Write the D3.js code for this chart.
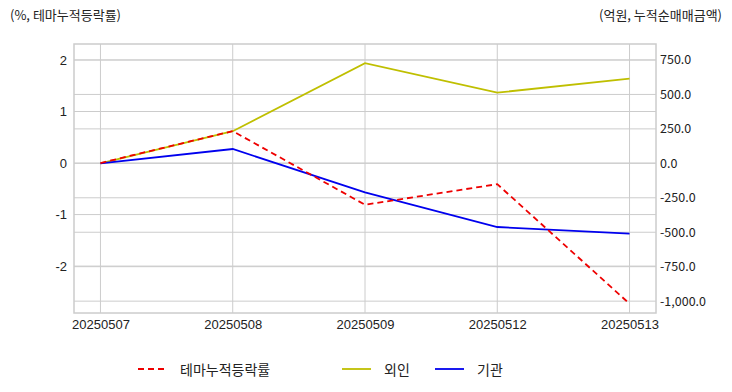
<!DOCTYPE html>
<html>
<head>
<meta charset="utf-8">
<script src="https://cdn.jsdelivr.net/npm/d3@7"></script>
<style>
  body { margin: 0; background: #fff; }
  svg text { font-family: "Noto Sans CJK KR", "Liberation Sans", sans-serif; fill: #222; }
  .tick text.num { font-family: "Liberation Sans", Arial, sans-serif; }
</style>
</head>
<body>
<div id="chart"></div>
<script>
// ---- data ----
const dates = ["20250507", "20250508", "20250509", "20250512", "20250513"];
const themeReturn = [0, 0.62, -0.81, -0.41, -2.73];   // %, left axis
const foreign = [0, 233, 727, 513, 615];                // 억원, right axis
const institution = [0, 104, -211, -462, -510];         // 억원, right axis
const leftTicks = [-2, -1, 0, 1, 2];
const rightTicks = [-1000, -750, -500, -250, 0, 250, 500, 750];

const width = 732, height = 392;
const plot = { left: 74, right: 656, top: 44, bottom: 313 };

const svg = d3.select("#chart").append("svg")
  .attr("width", width)
  .attr("height", height);

const x = d3.scalePoint()
  .domain(dates)
  .range([plot.left, plot.right])
  .padding(0.2);

const yLeft = d3.scaleLinear()
  .domain([-2.91, 2.31])
  .range([plot.bottom, plot.top]);

const yRight = d3.scaleLinear()
  .domain([-1086, 866])
  .range([plot.bottom, plot.top]);

// grid lines
const grid = svg.append("g");
grid.selectAll(".gl").data(leftTicks).join("line")
  .attr("x1", plot.left).attr("x2", plot.right)
  .attr("y1", d => yLeft(d)).attr("y2", d => yLeft(d))
  .attr("stroke", "#cccccc").attr("stroke-width", 1);
grid.selectAll(".gr").data(rightTicks).join("line")
  .attr("x1", plot.left).attr("x2", plot.right)
  .attr("y1", d => yRight(d)).attr("y2", d => yRight(d))
  .attr("stroke", "#cccccc").attr("stroke-width", 1);
grid.selectAll(".gx").data(dates).join("line")
  .attr("x1", d => x(d)).attr("x2", d => x(d))
  .attr("y1", plot.top).attr("y2", plot.bottom)
  .attr("stroke", "#cccccc").attr("stroke-width", 1);

// frame
svg.append("rect")
  .attr("x", plot.left).attr("y", plot.top)
  .attr("width", plot.right - plot.left)
  .attr("height", plot.bottom - plot.top)
  .attr("fill", "none")
  .attr("stroke", "#cccccc")
  .attr("stroke-width", 1.5);

// axes
const leftAxis = svg.append("g")
  .attr("transform", `translate(${plot.left},0)`)
  .call(d3.axisLeft(yLeft).tickValues(leftTicks).tickSize(0).tickPadding(7)
    .tickFormat(d => String(d)));
leftAxis.select(".domain").remove();
leftAxis.selectAll("text").attr("class", "num").style("font-size", "13px").attr("fill", "#222");

const rightAxis = svg.append("g")
  .attr("transform", `translate(${plot.right},0)`)
  .call(d3.axisRight(yRight).tickValues(rightTicks).tickSize(0).tickPadding(4)
    .tickFormat(d => d3.format(",.1f")(d).replace("−", "-")));
rightAxis.select(".domain").remove();
rightAxis.selectAll("text").style("font-size", "12.5px").attr("fill", "#222");

const bottomAxis = svg.append("g")
  .attr("transform", `translate(0,${plot.bottom})`)
  .call(d3.axisBottom(x).tickSize(0).tickPadding(7));
bottomAxis.select(".domain").remove();
bottomAxis.selectAll("text").attr("class", "num").style("font-size", "13px").attr("fill", "#222");

// axis titles
svg.append("text")
  .attr("x", 10).attr("y", 20)
  .style("font-size", "13px")
  .text("(%, 테마누적등락률)");
svg.append("text")
  .attr("x", 722).attr("y", 20)
  .attr("text-anchor", "end")
  .style("font-size", "13px")
  .text("(억원, 누적순매매금액)");

// lines
const series = [
  { name: "외인", values: foreign, scale: yRight, color: "#bfbf00", dash: null },
  { name: "기관", values: institution, scale: yRight, color: "#0000ee", dash: null },
  { name: "테마누적등락률", values: themeReturn, scale: yLeft, color: "#ee0000", dash: "6,4" }
];

series.forEach(s => {
  const line = d3.line()
    .x((d, i) => x(dates[i]))
    .y(d => s.scale(d));
  svg.append("path")
    .datum(s.values)
    .attr("fill", "none")
    .attr("stroke", s.color)
    .attr("stroke-width", 1.8)
    .attr("stroke-dasharray", s.dash)
    .attr("d", line);
});

// legend
const legendItems = [
  { name: "테마누적등락률", color: "#ee0000", dash: "6,4", x: 138 },
  { name: "외인", color: "#bfbf00", dash: null, x: 342 },
  { name: "기관", color: "#0000ee", dash: null, x: 435 }
];
const legend = svg.append("g").attr("transform", "translate(0,369)");
legendItems.forEach(d => {
  legend.append("line")
    .attr("x1", d.x).attr("x2", d.x + 29)
    .attr("y1", 0).attr("y2", 0)
    .attr("stroke", d.color)
    .attr("stroke-width", 1.8)
    .attr("stroke-dasharray", d.dash);
  legend.append("text")
    .attr("x", d.x + 42).attr("y", 0)
    .attr("dominant-baseline", "central")
    .style("font-size", "14px")
    .text(d.name);
});
</script>
</body>
</html>
